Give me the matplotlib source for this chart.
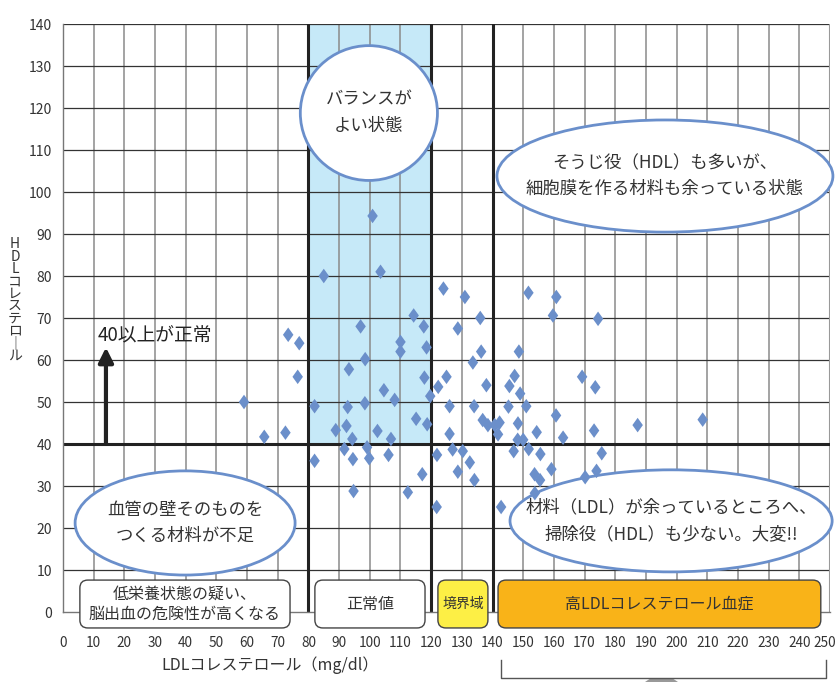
import numpy as np
import matplotlib
matplotlib.use("Agg")
import matplotlib.pyplot as plt
from matplotlib.patches import Ellipse, FancyBboxPatch, Rectangle, Polygon
from matplotlib.lines import Line2D
from matplotlib.path import Path
from matplotlib.transforms import ScaledTranslation

plt.rcParams['font.family'] = ['Noto Sans CJK JP', 'DejaVu Sans']

# LDL / HDL readings
ldl = [85, 103.5, 124, 73.4, 77, 76.5, 59, 65.6, 72.5, 82, 82, 97, 114.3, 117.6,
       110, 110, 118.5, 98.5, 93.2, 117.8, 125, 122.3, 119.7, 104.6, 108.1, 92.8,
       98.4, 115.1, 118.7, 88.9, 92.4, 94.3, 102.5, 106.9, 91.7, 94.5, 99.1, 99.8,
       106.1, 121.9, 117.1, 94.7, 112.4, 121.8, 100.9,
       126, 126, 131, 151.7, 160.8, 159.7, 174.4, 136, 128.7, 136.3, 148.6, 133.6,
       138, 147.2, 145.5, 149, 169.2, 173.5, 134, 145.2, 151, 136.8, 138.5, 140.7,
       142.3, 141.8, 148.3, 154.4, 148.2, 150, 160.7, 163, 173.1, 187.3, 208.5,
       127, 130.3, 146.9, 151.8, 155.6, 175.6, 132.6, 128.7, 134.1, 153.7, 155.5,
       159.2, 170.2, 173.9, 153.8, 142.8]
hdl = [80, 81, 77, 66, 64, 56, 50, 41.7, 42.7, 49, 36, 68, 70.6, 68,
       64.3, 62, 63, 60.2, 57.8, 55.8, 56, 53.6, 51.4, 52.8, 50.5, 48.8,
       49.7, 46, 44.7, 43.3, 44.3, 41.2, 43.1, 41.2, 38.8, 36.4, 39.2, 36.6,
       37.4, 37.4, 32.8, 28.8, 28.5, 25, 94.3,
       49, 42.4, 75, 76, 75, 70.6, 69.8, 70, 67.5, 62, 62, 59.4,
       54, 56.2, 53.8, 52, 56, 53.5, 49, 48.9, 49, 45.7, 44.5, 44.5,
       45.1, 42.3, 44.9, 42.8, 41, 41, 46.8, 41.5, 43.2, 44.5, 45.8,
       38.7, 38.3, 38.3, 38.8, 37.6, 37.8, 35.6, 33.4, 31.4, 32.8, 31.4,
       34, 32.1, 33.6, 28.3, 25]

xticks = list(range(0, 251, 10))
yticks = list(range(0, 141, 10))
thick_x = [80, 120, 140]
thick_y = 40

W, H = 839, 682
fig = plt.figure(figsize=(W / 100, H / 100), dpi=100)
x0, x1, y0, y1 = 63, 830, 612, 24
ax = fig.add_axes([x0 / W, 1 - y0 / H, (x1 - x0) / W, (y0 - y1) / H])
ax.set_xlim(0, 250)
ax.set_ylim(0, 140)

# normal range band
ax.add_patch(Rectangle((80, 40), 40, 100, facecolor='#c6e9f8', edgecolor='none', zorder=0.5))

for v in xticks[1:-1]:
    if v not in thick_x:
        ax.axvline(v, color='#8a8a8a', lw=1.1, zorder=1)
for v in yticks[1:]:
    if v != thick_y:
        ax.axhline(v, color='#333333', lw=0.9, zorder=1)
ax.axvline(250, color='#999999', lw=1.5, zorder=1)
for v in thick_x:
    ax.axvline(v, color='#222222', lw=2.2, zorder=2)
ax.axhline(thick_y, color='#222222', lw=2.2, zorder=2)

for s in ['top', 'right']:
    ax.spines[s].set_visible(False)
for s in ['left', 'bottom']:
    ax.spines[s].set_color('#777777')
    ax.spines[s].set_linewidth(1.0)

ax.set_xticks(xticks)
ax.set_yticks(yticks)
ax.tick_params(axis='x', length=0, pad=17, labelsize=9.8, labelcolor='#333333')
ax.tick_params(axis='y', length=0, pad=8, labelsize=10, labelcolor='#333333')
last = ax.get_xticklabels()[-1]
last.set_transform(last.get_transform() + ScaledTranslation(-4 / 72, 0, fig.dpi_scale_trans))

# ellipses with comments
ell_color = '#6a8fcb'
ellipses = [
    (99.7, 118.8, 44.7, 32.1, 'バランスが\nよい状態'),
    (196.2, 103.8, 109.5, 26.7, 'そうじ役（HDL）も多いが、\n細胞膜を作る材料も余っている状態'),
    (39.8, 21.2, 71.7, 24.8, '血管の壁そのものを\nつくる材料が不足'),
    (198.2, 21.7, 105, 24.3, '材料（LDL）が余っているところへ、\n掃除役（HDL）も少ない。大変!!'),
]
for cx, cy, ew, eh, txt in ellipses:
    ax.add_patch(Ellipse((cx, cy), ew, eh, facecolor='white', edgecolor=ell_color,
                         lw=2.0, zorder=3, clip_on=False))
    ax.text(cx, cy, txt, ha='center', va='center', fontsize=12.5, color='#333333',
            linespacing=1.6, zorder=4)

# diamonds
diamond = Path([(0, 1), (0.72, 0), (0, -1), (-0.72, 0), (0, 1)],
               [Path.MOVETO, Path.LINETO, Path.LINETO, Path.LINETO, Path.CLOSEPOLY])
ax.scatter(ldl, hdl, marker=diamond, s=110, color='#6b8fca', edgecolors='none', zorder=5)

# arrow 40 and above
ax.annotate('', xy=(14, 63), xytext=(14, 40),
            arrowprops=dict(arrowstyle='-|>', lw=3, color='#222222', mutation_scale=22,
                            shrinkA=0, shrinkB=0), zorder=4)
ax.text(11.4, 65.7, '40以上が正常', ha='left', va='center', fontsize=13.5, color='#222222', zorder=4)

# category boxes along the bottom
asp = 3.068 / 4.2
boxes = [
    (5.5, 74, 'white', '低栄養状態の疑い、\n脳出血の危険性が高くなる', 11.5),
    (82.1, 118, 'white', '正常値', 11.5),
    (122.2, 138.5, '#fdef45', '境界域', 10),
    (141.8, 247, '#f9b318', '高LDLコレステロール血症', 11.5),
]
for bx0, bx1, fc, txt, fs in boxes:
    ax.add_patch(FancyBboxPatch((bx0, -3.8), bx1 - bx0, 11.4,
                                boxstyle='round,pad=0,rounding_size=2.6',
                                mutation_aspect=asp, facecolor=fc, edgecolor='#444444',
                                lw=1.0, zorder=6, clip_on=False))
    ax.text((bx0 + bx1) / 2, 1.9, txt, ha='center', va='center', fontsize=fs,
            color='#333333', linespacing=1.2, zorder=7, clip_on=False)

# axis titles
fig.text(270 / W, 1 - 665 / H, 'LDLコレステロール（mg/dl）', ha='center', va='center',
         fontsize=11.5, color='#333333')
ylab = '\n'.join(['H', 'D', 'L', 'コ', 'レ', 'ス', 'テ', 'ロ', '｜', 'ル'])
fig.text(15 / W, 1 - 300 / H, ylab, ha='center', va='center', fontsize=10,
         color='#333333', linespacing=0.85)

# bracket under the high range
tr = fig.transFigure
def px(x, y):
    return (x / W, 1 - y / H)
bx = [px(501, 660), px(501, 678), px(826, 678), px(826, 660)]
fig.add_artist(Line2D([p[0] for p in bx], [p[1] for p in bx], color='#555555', lw=1.0,
                      transform=tr))
fig.add_artist(Polygon([px(645, 682), px(678, 682), px(672, 678), px(651, 678)],
                       closed=True, facecolor='#999999', edgecolor='none', transform=tr))

fig.savefig('out.png', dpi=100)
